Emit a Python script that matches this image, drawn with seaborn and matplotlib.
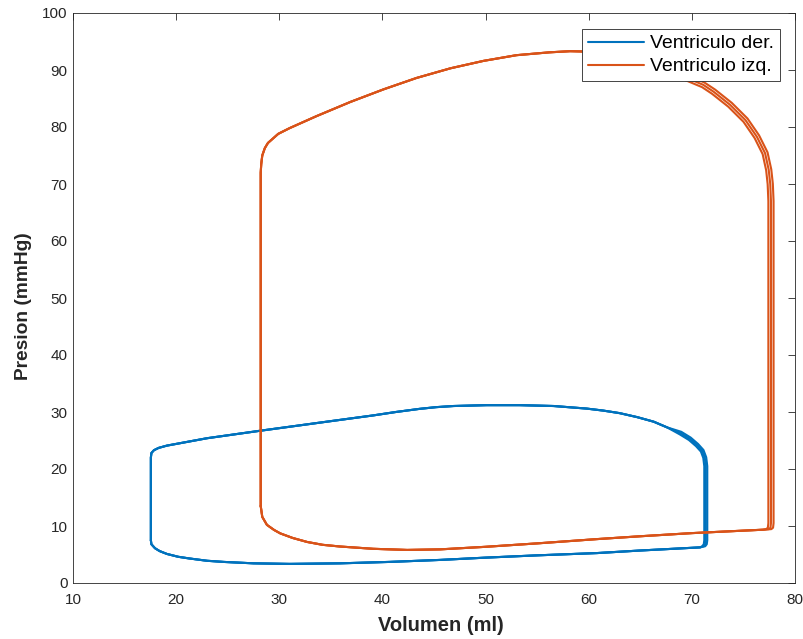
import numpy as np
import pandas as pd
import matplotlib
matplotlib.use("Agg")
import matplotlib.pyplot as plt
import seaborn as sns

# ---------------- data ----------------
# Left ventricle (Ventriculo izq.) - middle beat
lv_fill_v = [28.2, 28.35, 28.8, 29.5, 30.1, 31.3, 32.7, 34.2, 35.9, 39.1, 42.4, 45.6,
             50.0, 55.0, 60.8, 65.0, 70.0, 74.0, 76.9]
lv_fill_p = [13.5, 11.6, 10.2, 9.3, 8.7, 7.9, 7.2, 6.7, 6.4, 6.0, 5.8, 5.9,
             6.35, 6.95, 7.7, 8.2, 8.75, 9.1, 9.35]
lv_right_v = [77.45, 77.62, 77.67, 77.67, 77.6, 77.45, 77.1, 76.3, 75.2, 73.7, 72.1, 71.1, 69.0]
lv_right_p = [9.45, 9.7, 10.5, 67.0, 70.0, 72.5, 75.4, 78.3, 81.2, 83.9, 86.2, 87.4, 89.0]
lv_top_v = [66.0, 63.0, 60.5, 58.2, 56.2, 53.0, 49.8, 46.6, 43.3, 40.1, 36.9, 33.6, 31.0,
            29.9, 29.4, 28.9, 28.6, 28.35, 28.25, 28.2, 28.2]
lv_top_p = [91.2, 92.6, 93.2, 93.3, 93.1, 92.6, 91.6, 90.3, 88.6, 86.6, 84.4, 81.9, 79.8,
            78.8, 78.0, 77.2, 76.3, 75.0, 73.5, 72.0, 13.5]
lv_beat_shift = [-2.6, 0.0, 2.6]   # beat-to-beat spread of the right edge (pixels)

# Right ventricle (Ventriculo der.) - middle beat
rv_fill_v = [17.55, 17.6, 17.95, 18.4, 19.1, 20.2, 21.3, 23.0, 24.6, 27.5, 31.0, 35.9,
             40.7, 45.6, 50.0, 55.0, 60.8, 65.0, 70.8]
rv_fill_p = [7.5, 6.8, 6.1, 5.6, 5.1, 4.6, 4.3, 3.9, 3.7, 3.45, 3.35, 3.45,
             3.7, 4.05, 4.45, 4.85, 5.25, 5.7, 6.25]
rv_right_v = [71.15, 71.3, 71.35, 71.35, 71.25, 71.0, 70.5, 69.8, 68.9]
rv_right_p = [6.45, 6.8, 7.5, 20.5, 22.0, 23.2, 24.2, 25.3, 26.3]
rv_top_v = [67.6, 66.3, 64.7, 63.0, 61.4, 59.8, 56.6, 53.3, 50.1, 46.9, 45.2, 43.6, 41.3,
            39.1, 34.6, 28.1, 23.0, 19.1, 18.3, 17.85, 17.6, 17.55, 17.55]
rv_top_p = [27.3, 28.3, 29.1, 29.8, 30.25, 30.6, 31.05, 31.2, 31.2, 31.05, 30.85, 30.55, 30.0,
            29.4, 28.3, 26.7, 25.4, 24.1, 23.7, 23.3, 22.8, 22.0, 7.5]
rv_beat_shift = [-1.5, 0.0, 1.5]

series_names = ["Ventriculo der.", "Ventriculo izq."]
colors = ["#0072BD", "#D95319"]

# pixel scale of the axes (px per data unit), used to offset beats perpendicular to the path
PX_V = 722 / 70.0
PX_P = 570 / 100.0


def shifted(v, p, s):
    v = np.asarray(v, float)
    p = np.asarray(p, float)
    tx = np.gradient(v * PX_V)
    ty = np.gradient(p * PX_P)
    n = np.hypot(tx, ty)
    nx, ny = ty / n, -tx / n          # outward normal of a counter-clockwise loop
    ny = np.clip(ny, 0, None)
    nn = np.hypot(nx, ny)
    nx, ny = nx / nn, ny / nn
    return v + s * nx / PX_V, p + s * ny / PX_P


# ---------------- build long table ----------------
rows = []
def add_loop(name, fv, fp, rv, rp, tv, tp, shifts):
    for b, s in enumerate(shifts):
        sv, spp = shifted(rv, rp, s)
        vs = list(fv) + list(sv) + list(tv)
        ps = list(fp) + list(spp) + list(tp)
        for k, (v, p) in enumerate(zip(vs, ps)):
            rows.append({"Volumen": v, "Presion": p, "Ventriculo": name,
                         "ciclo": f"{name}-{b}", "orden": k})

add_loop(series_names[0], rv_fill_v, rv_fill_p, rv_right_v, rv_right_p,
         rv_top_v, rv_top_p, rv_beat_shift)
add_loop(series_names[1], lv_fill_v, lv_fill_p, lv_right_v, lv_right_p,
         lv_top_v, lv_top_p, lv_beat_shift)
df = pd.DataFrame(rows)

# ---------------- plot ----------------
sns.set_style("white")
plt.rcParams["font.family"] = ["Liberation Sans", "DejaVu Sans"]

fig = plt.figure(figsize=(8.04, 6.39), dpi=100)
ax = fig.add_axes([73/804, 1 - 583/639, (795-73)/804, (583-13)/639])

sns.lineplot(data=df, x="Volumen", y="Presion", hue="Ventriculo", units="ciclo",
             estimator=None, sort=False, palette=dict(zip(series_names, colors)),
             linewidth=1.5, ax=ax)

ax.set_xlim(10, 80)
ax.set_ylim(0, 100)
ax.set_xticks(range(10, 81, 10))
ax.set_yticks(range(0, 101, 10))

axc = "#262626"
for sp in ax.spines.values():
    sp.set_visible(True)
    sp.set_color(axc)
    sp.set_linewidth(0.6)
ax.tick_params(direction="in", length=5, width=0.6, colors=axc, labelsize=11,
               top=True, right=True, labelcolor=axc, pad=4)
ax.tick_params(axis="x", pad=7.5)

ax.set_xlabel("Volumen (ml)", fontsize=14.5, fontweight="bold", color=axc)
ax.set_ylabel("Presion (mmHg)", fontsize=13.8, fontweight="bold", color=axc)
ax.xaxis.set_label_coords(0.51, -0.058)
ax.yaxis.set_label_coords(-0.069, 0.486)
ax.xaxis.label.set_va("top")
ax.yaxis.label.set_va("center")

handles, labels = ax.get_legend_handles_labels()
leg = ax.legend(handles, labels, loc="upper right", bbox_to_anchor=(0.979, 0.972),
                borderaxespad=0, fontsize=14, frameon=True, fancybox=False,
                framealpha=1, edgecolor=axc, handlelength=2.9, handletextpad=0.3,
                borderpad=0.3, labelspacing=0.28)
leg.get_frame().set_linewidth(0.6)
for t in leg.get_texts():
    t.set_color("black")

fig.savefig("out.png", dpi=100)
